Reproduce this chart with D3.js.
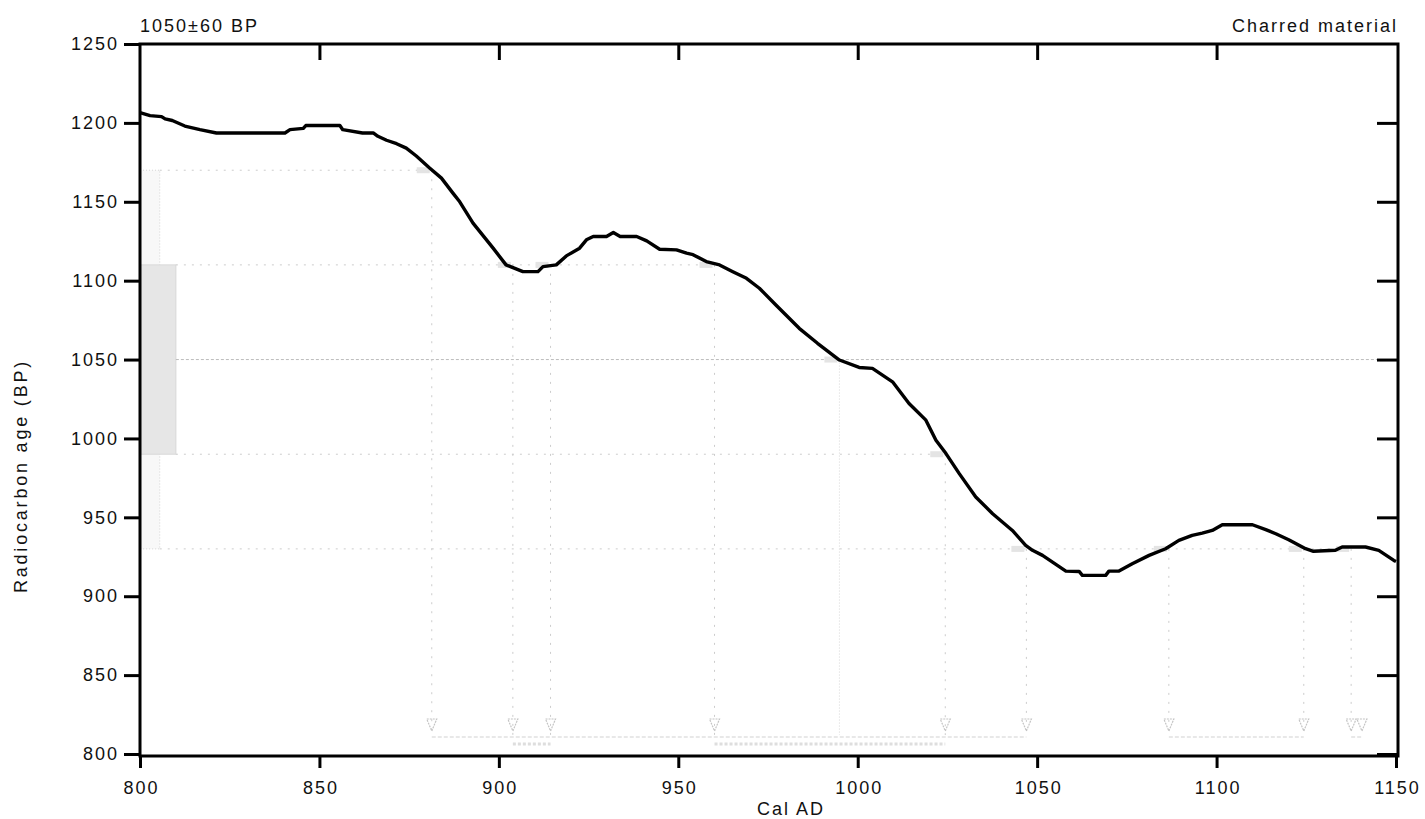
<!DOCTYPE html>
<html>
<head>
<meta charset="utf-8">
<script src="https://cdn.jsdelivr.net/npm/d3@7"></script>
<style>
  html, body { margin: 0; padding: 0; background: #fff; }
  svg { display: block; }
  text { font-family: "Liberation Sans", Arial, sans-serif; fill: #111; }
</style>
</head>
<body>
<svg id="chart" width="1425" height="819"></svg>
<script>
// ---------------- data ----------------
const calYears = [800, 802.8, 806, 807, 809, 812.5, 816.7, 821.3, 840.4, 841.8, 845.5, 846.2, 855.7, 856.5, 862, 865,
  866.3, 868.7, 871.5, 874.2, 877, 880.7, 884, 887.2, 889.1, 892.8, 898.4, 902, 906.7, 910.9, 912.3, 916,
  918.8, 922.5, 924.4, 926.3, 930, 931.9, 933.8, 938.4, 941.2, 944.8, 949.5, 952.3, 954.1, 957.8, 961.5,
  965.2, 969, 972.6, 977.2, 983.7, 988.8, 994.9, 1000.4, 1004.1, 1009.7, 1014.3, 1019, 1021.8, 1024.6,
  1028.3, 1032.9, 1037.6, 1043.1, 1046.8, 1048.7, 1051.5, 1058, 1061.7, 1062.6, 1069.1, 1070, 1072.8,
  1076.5, 1081.2, 1085.8, 1089.5, 1093.2, 1096, 1098.8, 1101.6, 1110, 1113.7, 1116.5, 1120.1, 1124.8,
  1127, 1133.1, 1135, 1141.5, 1145.2, 1149.4, 1150];
const calBP = [1206.5, 1204.6, 1204, 1202.5, 1201.5, 1198, 1195.7, 1193.6, 1193.6, 1195.7, 1196.5, 1198.3, 1198.3, 1195.7, 1193.6, 1193.6,
  1191.5, 1189, 1186.8, 1184, 1179, 1171.4, 1165, 1155.5, 1150, 1136.5, 1120.6, 1110, 1105.7, 1105.7, 1108.9, 1110,
  1115.7, 1120.6, 1125.9, 1128, 1128, 1130.5, 1128, 1128, 1125.2, 1119.9, 1119.5, 1117.4, 1116.5, 1112.1, 1110,
  1105.7, 1101.5, 1095.2, 1084.6, 1069.8, 1060.3, 1049.7, 1045, 1044.4, 1035.9, 1022.2, 1011.6, 998.9, 990.4,
  977.7, 962.9, 952.3, 941.7, 932.2, 929.1, 925.9, 915.9, 915.7, 913.2, 913.2, 915.9, 916,
  920.6, 925.9, 930.1, 935.4, 938.6, 940, 941.7, 945.3, 945.3, 942.2, 939.6, 935.8, 930.1,
  928.5, 929.1, 931.2, 931.2, 929.1, 922.7, 922];

const sampleAge = 1050, sampleErr = 60;
const sigmaLevels = [1170, 1110, 1050, 990, 930];
const sigmaLineEnd = [881.3, 960.1, 1150, 1024.4, 1137.5];   // year where each dotted level ends
const sigmaLineStart = [805.5, 810, 810, 810, 805.5];          // year where each dotted level starts
const crossYears = [881.3, 903.9, 914.4, 960.1, 994.9, 1024.4, 1047, 1086.7, 1124.3, 1137.5];
const crossAges  = [1170, 1110, 1110, 1110, 1050, 990, 930, 930, 930, 930];
const triangleYears = [881.3, 903.9, 914.4, 960.1, 1024.4, 1047, 1086.7, 1124.3, 1137.5, 1140.5];
const range2Sigma = [[881.3, 1047], [1086.7, 1124.3], [1137.5, 1140.5]];
const range1Sigma = [[903.9, 914.4], [960.1, 1024.4]];

const xTicks = [800, 850, 900, 950, 1000, 1050, 1100, 1150];
const yTicks = [800, 850, 900, 950, 1000, 1050, 1100, 1150, 1200, 1250];
const titleLeft = "1050±60 BP";
const titleRight = "Charred material";
const xLabel = "Cal AD";
const yLabel = "Radiocarbon age (BP)";

// ---------------- scales ----------------
const svg = d3.select("#chart");
const x = d3.scaleLinear().domain([800, 1150]).range([140, 1396]);
const y = d3.scaleLinear().domain([800, 1250]).range([754, 44]);
const L = x(800), R = x(1150) + 2, T = y(1250), B = y(800) + 2;

const faint = "#cccccc";

// 2-sigma outline & 1-sigma shaded band on the age axis
svg.append("rect")
  .attr("x", L).attr("y", y(sampleAge + 2 * sampleErr))
  .attr("width", x(805.5) - L).attr("height", y(sampleAge - 2 * sampleErr) - y(sampleAge + 2 * sampleErr))
  .attr("fill", "#f8f8f8").attr("stroke", "#d4d4d4").attr("stroke-width", 1).attr("stroke-dasharray", "1,2");
svg.append("rect")
  .attr("x", L).attr("y", y(sampleAge + sampleErr))
  .attr("width", x(810) - L).attr("height", y(sampleAge - sampleErr) - y(sampleAge + sampleErr))
  .attr("fill", "#e6e6e6").attr("stroke", "#d8d8d8").attr("stroke-width", 1);

// horizontal dotted levels
sigmaLevels.forEach((v, i) => {
  svg.append("line")
    .attr("x1", x(sigmaLineStart[i])).attr("x2", x(sigmaLineEnd[i]))
    .attr("y1", y(v)).attr("y2", y(v))
    .attr("stroke", v === sampleAge ? "#bcbcbc" : faint)
    .attr("stroke-width", 1)
    .attr("stroke-dasharray", v === sampleAge ? "3,2" : "2,6");
});

// vertical dotted lines from crossings
crossYears.forEach((yr, i) => {
  svg.append("line")
    .attr("x1", x(yr)).attr("x2", x(yr))
    .attr("y1", y(crossAges[i])).attr("y2", y(812))
    .attr("stroke", crossAges[i] === sampleAge ? "#d6d6d6" : faint)
    .attr("stroke-width", 1)
    .attr("stroke-dasharray", crossAges[i] === sampleAge ? "1,2" : "2,7");
  // small tag at the crossing
  svg.append("rect")
    .attr("x", x(yr) - 15).attr("y", y(crossAges[i]) - 3)
    .attr("width", 13).attr("height", 6)
    .attr("fill", "#e4e4e4");
});

// triangles
triangleYears.forEach(yr => {
  const cx = x(yr), ty = 719;
  svg.append("path")
    .attr("d", `M${cx - 5},${ty} L${cx + 5},${ty} L${cx},${ty + 12} Z`)
    .attr("fill", "none").attr("stroke", "#c4c4c4").attr("stroke-width", 1.2)
    .attr("stroke-dasharray", "2,1");
});

// probability ranges near bottom
range2Sigma.forEach(r => {
  svg.append("line").attr("x1", x(r[0])).attr("x2", x(r[1]))
    .attr("y1", 737).attr("y2", 737)
    .attr("stroke", "#d2d2d2").attr("stroke-width", 1.2).attr("stroke-dasharray", "4,2");
});
range1Sigma.forEach(r => {
  svg.append("line").attr("x1", x(r[0])).attr("x2", x(r[1]))
    .attr("y1", 744).attr("y2", 744)
    .attr("stroke", "#dedede").attr("stroke-width", 3).attr("stroke-dasharray", "3,2");
});

// calibration curve
const pts = calYears.map((d, i) => [d, calBP[i]]);
svg.append("path")
  .datum(pts)
  .attr("d", d3.line().x(d => x(d[0])).y(d => y(d[1])).curve(d3.curveLinear))
  .attr("fill", "none").attr("stroke", "#000").attr("stroke-width", 3.4)
  .attr("stroke-linejoin", "round");

// frame
svg.append("rect")
  .attr("x", L).attr("y", T).attr("width", R - L).attr("height", B - T)
  .attr("fill", "none").attr("stroke", "#000").attr("stroke-width", 3);

// axes via d3
const fontSize = 18, ls = 2;
const bottomAxis = svg.append("g").attr("transform", `translate(0,${B})`)
  .call(d3.axisBottom(x).tickValues(xTicks).tickFormat(d3.format("d")).tickSize(12).tickPadding(13));
const topAxis = svg.append("g").attr("transform", `translate(0,${T})`)
  .call(d3.axisBottom(x).tickValues(xTicks.slice(1, -1)).tickFormat("").tickSize(16));
const leftAxis = svg.append("g").attr("transform", `translate(${L},0)`)
  .call(d3.axisLeft(y).tickValues(yTicks).tickFormat(d3.format("d")).tickSize(16).tickPadding(7));
const rightAxis = svg.append("g").attr("transform", `translate(${R},0)`)
  .call(d3.axisLeft(y).tickValues(yTicks.slice(0, -1)).tickFormat("").tickSize(21));

[bottomAxis, topAxis, leftAxis, rightAxis].forEach(g => {
  g.select(".domain").remove();
  g.selectAll(".tick line").attr("stroke", "#000").attr("stroke-width", 3);
  g.selectAll(".tick text")
    .attr("font-size", fontSize)
    .attr("font-family", "'Liberation Sans', Arial, sans-serif")
    .attr("fill", "#111")
    .style("letter-spacing", ls + "px");
});
leftAxis.selectAll(".tick text").attr("dx", ls);
bottomAxis.selectAll(".tick text").attr("dx", ls / 2);

// titles
svg.append("text").attr("x", 140).attr("y", 32)
  .attr("font-size", fontSize).style("letter-spacing", "2px").text(titleLeft);
svg.append("text").attr("x", 1396 + 2).attr("y", 32).attr("text-anchor", "end")
  .attr("font-size", fontSize).style("letter-spacing", "2px").text(titleRight);
svg.append("text").attr("x", 791).attr("y", 815).attr("text-anchor", "middle")
  .attr("font-size", fontSize).style("letter-spacing", "2px").text(xLabel);
svg.append("text")
  .attr("transform", "translate(27,476) rotate(-90)")
  .attr("text-anchor", "middle")
  .attr("font-size", fontSize).style("letter-spacing", "2.8px").text(yLabel);
</script>
</body>
</html>
